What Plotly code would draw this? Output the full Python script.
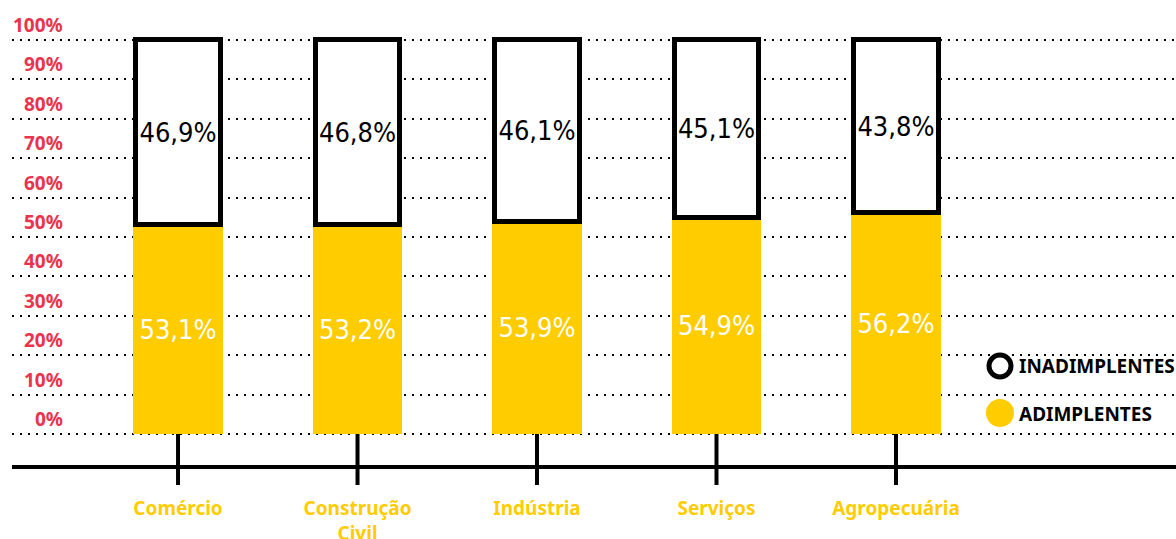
import plotly.graph_objects as go

# Dados
categorias = ["Comércio", "Construção<br>Civil", "Indústria", "Serviços", "Agropecuária"]
adimplentes = [53.1, 53.2, 53.9, 54.9, 56.2]
inadimplentes = [46.9, 46.8, 46.1, 45.1, 43.8]
y_ticks = [0, 10, 20, 30, 40, 50, 60, 70, 80, 90, 100]

AMARELO = "#FFCC00"
VERMELHO = "#E8344C"
PRETO = "#000000"
FONTE = "Noto Sans, Open Sans, sans-serif"
FONTE_NUM = "DejaVu Sans Condensed, sans-serif"

x = list(range(len(categorias)))

# geometria da área de plotagem (px)
TOP, BOTTOM, LEFT = 36, 485, 12
Y_MIN, Y_MAX = -12.94, 101


def fmt(v):
    return f"{v:.1f}%".replace(".", ",")


def py(px):
    """pixel vertical -> coordenada paper"""
    return (BOTTOM - px) / (BOTTOM - TOP)


def pxx(px):
    return (px - LEFT) / (1176 - LEFT)


fig = go.Figure()

fig.add_trace(go.Bar(
    x=x, y=adimplentes, name="ADIMPLENTES",
    width=0.5,
    marker=dict(color=AMARELO, line=dict(width=0)),
    text=[fmt(v) for v in adimplentes],
    textposition="inside", insidetextanchor="middle",
    textangle=0, constraintext="none",
    textfont=dict(color="white", size=27, family=FONTE_NUM),
    showlegend=False,
))
fig.add_trace(go.Bar(
    x=x, y=inadimplentes, name="INADIMPLENTES",
    width=0.47,
    marker=dict(color="white", line=dict(color=PRETO, width=5)),
    text=[fmt(v) for v in inadimplentes],
    textposition="inside", insidetextanchor="middle",
    textangle=0, constraintext="none",
    textfont=dict(color=PRETO, size=27, family=FONTE_NUM),
    showlegend=False,
))

# linha base e marcações verticais
fig.add_shape(type="line", xref="paper", yref="y", x0=0, x1=1, y0=-8.4, y1=-8.4,
              line=dict(color=PRETO, width=4), layer="above")
for xi in x:
    fig.add_shape(type="line", xref="x", yref="y", x0=xi, x1=xi, y0=0, y1=Y_MIN,
                  line=dict(color=PRETO, width=4), layer="below")

# rótulos do eixo y (acima das linhas de grade)
for v in y_ticks:
    fig.add_annotation(
        x=pxx(65), xref="paper", y=v, yref="y", yshift=15,
        text=f"<b>{v}%</b>", showarrow=False, xanchor="right", yanchor="middle",
        font=dict(color=VERMELHO, size=19, family=FONTE),
    )

# legenda manual
fig.add_shape(type="circle", xref="paper", yref="paper",
              xsizemode="pixel", ysizemode="pixel",
              xanchor=pxx(1000), yanchor=py(366),
              x0=-11, x1=11, y0=-11, y1=11,
              line=dict(color=PRETO, width=5), fillcolor="white")
fig.add_shape(type="circle", xref="paper", yref="paper",
              xsizemode="pixel", ysizemode="pixel",
              xanchor=pxx(1000), yanchor=py(413),
              x0=-14, x1=14, y0=-14, y1=14,
              line=dict(width=0), fillcolor=AMARELO)
fig.add_annotation(x=pxx(1017), xref="paper", y=py(366), yref="paper",
                   text="<b>INADIMPLENTES</b>", showarrow=False,
                   xanchor="left", yanchor="middle",
                   font=dict(color=PRETO, size=19, family=FONTE))
fig.add_annotation(x=pxx(1017), xref="paper", y=py(414), yref="paper",
                   text="<b>ADIMPLENTES</b>", showarrow=False,
                   xanchor="left", yanchor="middle",
                   font=dict(color=PRETO, size=19, family=FONTE))

fig.update_layout(
    width=1176, height=539,
    barmode="stack",
    paper_bgcolor="white", plot_bgcolor="white",
    margin=dict(l=LEFT, r=0, t=TOP, b=539 - BOTTOM),
    showlegend=False,
    xaxis=dict(
        range=[-0.925, 5.56],
        tickvals=x, ticktext=[f"<b>{c}</b>" for c in categorias],
        tickfont=dict(color=AMARELO, size=19, family=FONTE),
        showgrid=False, zeroline=False, showline=False, ticks="",
        ticklabelstandoff=10, automargin=False,
    ),
    yaxis=dict(
        range=[Y_MIN, Y_MAX],
        tickvals=y_ticks, showticklabels=False,
        showgrid=True, gridcolor=PRETO, gridwidth=2, griddash="2px,6px",
        zeroline=False, showline=False, ticks="", automargin=False,
    ),
)

fig.write_html("out.html", config={"displayModeBar": False},
               post_script="document.body.style.margin='0';")
